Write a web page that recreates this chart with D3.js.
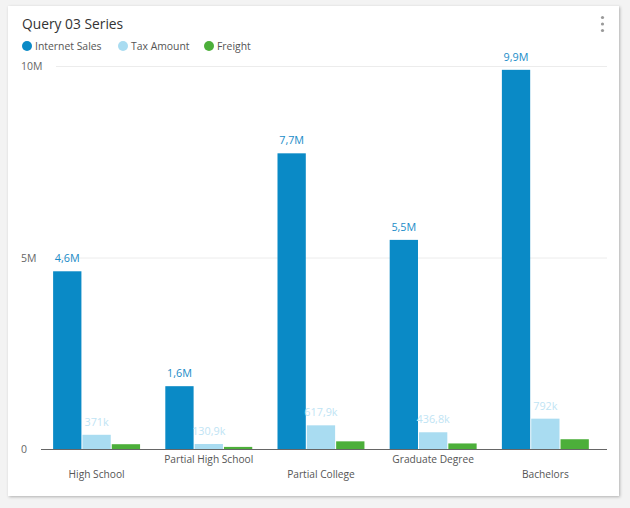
<!DOCTYPE html>
<html>
<head>
<meta charset="utf-8">
<script src="https://cdn.jsdelivr.net/npm/d3@7"></script>
<style>
  html, body { margin: 0; padding: 0; background: #f3f3f3; }
  svg { display: block; }
  text { font-family: "Open Sans", "Noto Sans", sans-serif; }
</style>
</head>
<body>
<svg id="chart" width="630" height="508"></svg>
<script>
const title = "Query 03 Series";
const categories = ["High School", "Partial High School", "Partial College", "Graduate Degree", "Bachelors"];
const seriesNames = ["Internet Sales", "Tax Amount", "Freight"];
const internetSales = [4640000, 1640000, 7720000, 5460000, 9900000];
const taxAmount = [371000, 130900, 617900, 436800, 792000];
const freight = [125000, 55000, 200000, 145000, 255000];
const valueLabels = [
  ["4,6M", "1,6M", "7,7M", "5,5M", "9,9M"],
  ["371k", "130,9k", "617,9k", "436,8k", "792k"],
  ["", "", "", "", ""]
];
const yTickValues = [0, 5000000, 10000000];
const yTickLabels = ["0", "5M", "10M"];
const colors = ["#0a8ac6", "#a9dcf1", "#4caf3a"];
const labelColors = ["#1a8cc8", "#bfe4f4", "#4caf3a"];

const seriesValues = [internetSales, taxAmount, freight];

const svg = d3.select("#chart");

// shadow filter
const defs = svg.append("defs");
const f = defs.append("filter").attr("id", "shadow").attr("x", "-5%").attr("y", "-5%").attr("width", "110%").attr("height", "110%");
f.append("feDropShadow").attr("dx", 1).attr("dy", 1).attr("stdDeviation", 1.5).attr("flood-color", "#000").attr("flood-opacity", 0.28);

// card
svg.append("rect").attr("x", 8).attr("y", 6).attr("width", 611).attr("height", 490)
  .attr("fill", "#ffffff").attr("filter", "url(#shadow)");

// title
svg.append("text").attr("x", 22).attr("y", 29).attr("font-size", 13.8).attr("fill", "#333")
  .text(title);

// kebab
svg.selectAll("circle.kebab").data([17.5, 24, 30.5]).enter().append("circle")
  .attr("class", "kebab").attr("cx", 602.5).attr("cy", d => d).attr("r", 1.6).attr("fill", "#9a9a9a");

// legend
const legendX = [27, 123, 209];
const lg = svg.append("g");
seriesNames.forEach((s, i) => {
  lg.append("circle").attr("cx", legendX[i]).attr("cy", 46).attr("r", 5).attr("fill", colors[i]);
  lg.append("text").attr("x", legendX[i] + 8).attr("y", 50).attr("font-size", 10.4).attr("fill", "#555").text(s);
});

// scales
const y = d3.scaleLinear().domain([0, 10000000]).range([449, 66]);
const x0 = d3.scaleBand().domain(categories).range([41, 607]).paddingInner(0.225).paddingOuter(0.135).align(0.4);
const x1 = d3.scaleBand().domain(seriesNames).range([0, x0.bandwidth()]).paddingInner(0.035);

// gridlines
svg.append("g").selectAll("line").data(yTickValues.filter(v => v > 0)).enter().append("line")
  .attr("x1", 56).attr("x2", 607).attr("y1", d => y(d) + 0.5).attr("y2", d => y(d) + 0.5)
  .attr("stroke", "#ececec").attr("stroke-width", 1);

// y labels
svg.append("g").selectAll("text").data(yTickValues).enter().append("text")
  .attr("x", 21).attr("y", d => y(d) + 4).attr("font-size", 10.5).attr("fill", "#666")
  .text((d, i) => yTickLabels[i]);

// bars
const groups = svg.append("g").selectAll("g").data(categories).enter().append("g")
  .attr("transform", d => `translate(${x0(d)},0)`);

groups.each(function(cat, ci) {
  const g = d3.select(this);
  seriesNames.forEach((s, si) => {
    const v = seriesValues[si][ci];
    g.append("rect").attr("x", x1(s)).attr("y", y(v)).attr("width", x1.bandwidth())
      .attr("height", y(0) - y(v)).attr("fill", colors[si]);
    const lbl = valueLabels[si][ci];
    if (lbl) {
      g.append("text").attr("x", x1(s) + x1.bandwidth() / 2).attr("y", y(v) - 9)
        .attr("text-anchor", "middle").attr("font-size", 10.8).attr("fill", labelColors[si]).text(lbl);
    }
  });
});

// x axis
const xAxis = svg.append("g").attr("transform", "translate(0,449)")
  .call(d3.axisBottom(x0).tickSize(0).tickSizeOuter(0).tickPadding(0));
xAxis.select(".domain").attr("stroke", "#666").attr("d", "M41,0.5H607");
xAxis.selectAll(".tick text")
  .attr("font-family", "Open Sans, sans-serif").attr("font-size", 10.2).attr("fill", "#555")
  .attr("dy", null)
  .attr("y", (d, i) => i % 2 === 0 ? 29 : 14);
</script>
</body>
</html>
